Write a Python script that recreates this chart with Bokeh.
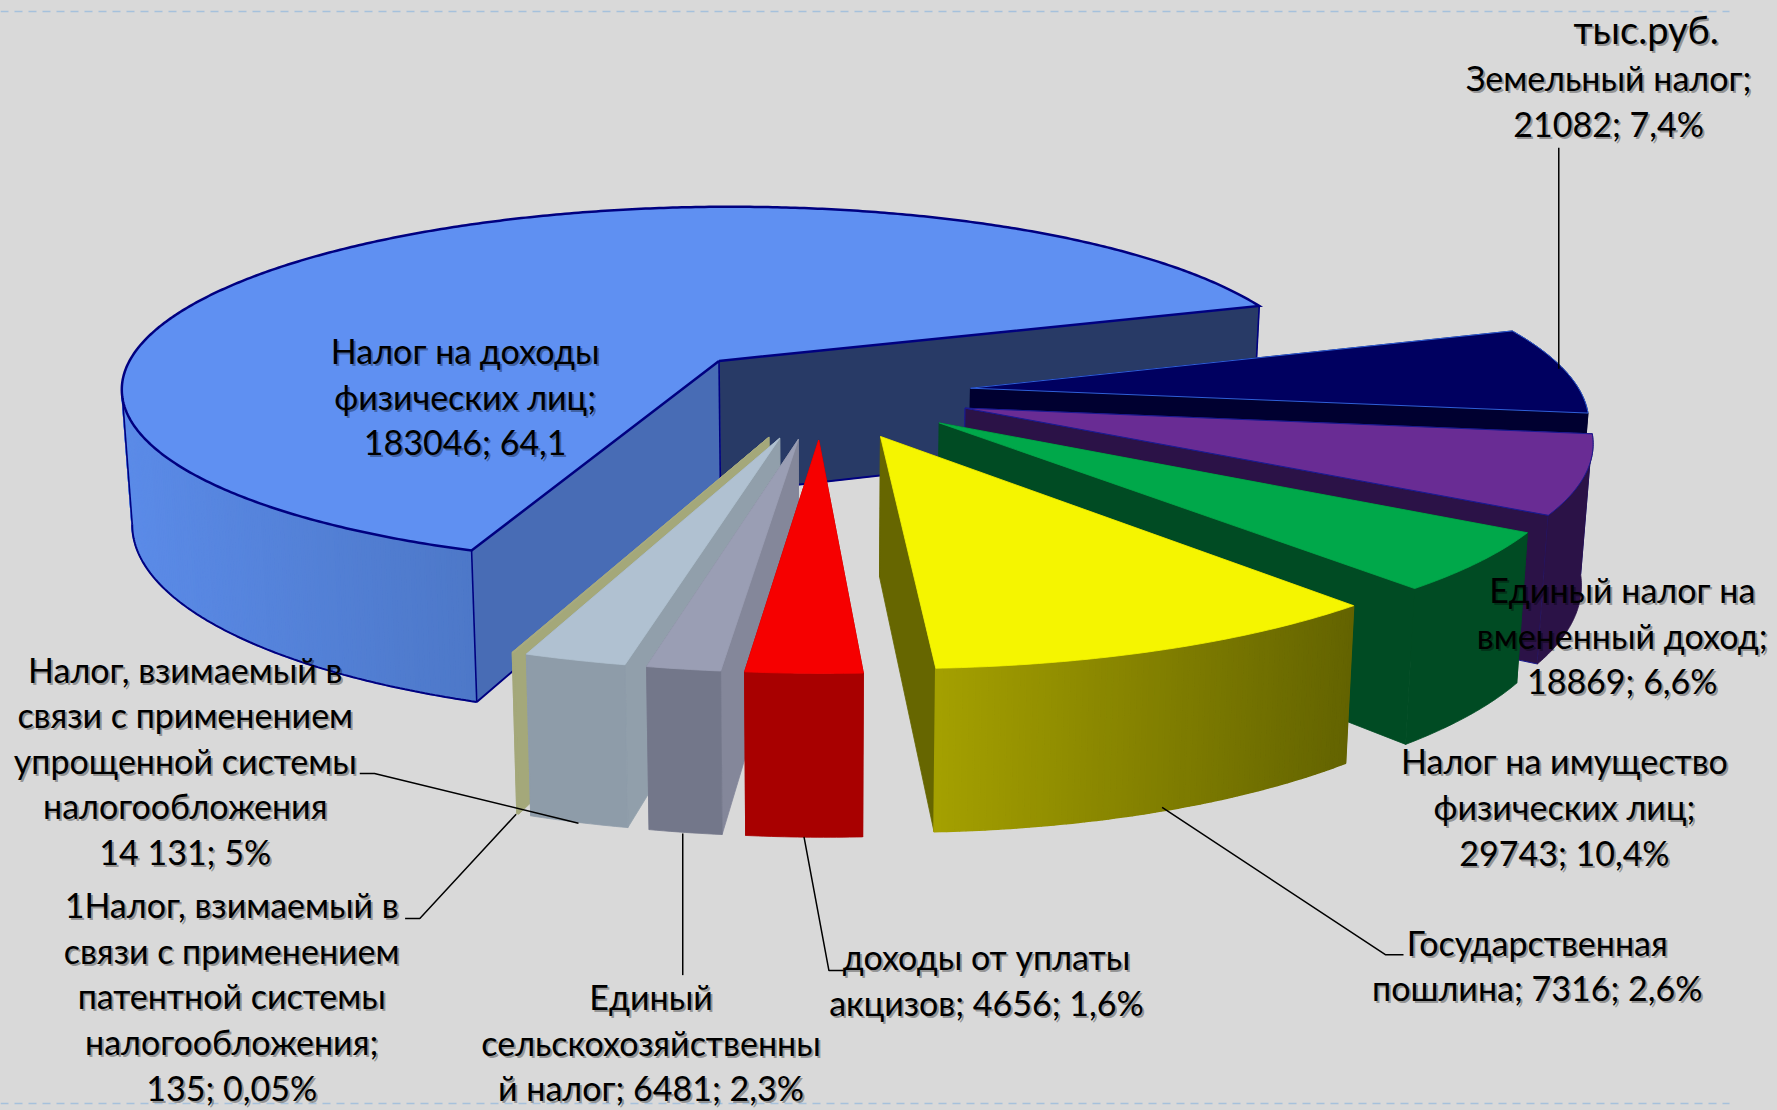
import math
from bokeh.plotting import figure
from bokeh.models import ColumnDataSource, Range1d
from bokeh.core.properties import value
from bokeh.embed import file_html
from bokeh.resources import INLINE

# ---------- data ----------
slice_names = ["Налог на доходы", "Земельный", "ЕНВД", "УСН", "Имущество",
               "Пошлина", "Акцизы", "ЕСХН", "Патент"]
slice_values = [183046, 21082, 18869, 14131, 29743, 7316, 4656, 6481, 135]

label_lines = [
    ["тыс.руб."],
    ["Земельный налог;", "21082; 7,4%"],
    ["Налог на доходы", "физических лиц;", "183046; 64,1"],
    ["Единый налог на", "вмененный доход;", "18869; 6,6%"],
    ["Налог на имущество", "физических лиц;", "29743; 10,4%"],
    ["Государственная", "пошлина; 7316; 2,6%"],
    ["доходы от уплаты", "акцизов; 4656; 1,6%"],
    ["Единый", "сельскохозяйственны", "й налог; 6481; 2,3%"],
    ["1Налог, взимаемый в", "связи с применением", "патентной системы", "налогообложения;", "135; 0,05%"],
    ["Налог, взимаемый в", "связи с применением", "упрощенной системы", "налогообложения", "14 131; 5%"],
]

# ---------- styles ----------
top_colors = ["#5F90F2", "#000060", "#692C94", "#00A84A", "#F5F500", "#F60000", "#9A9EB4", "#B0C1D1", "#A8AB80"]
wall_start = ["#486CB5", "#000030", "#2B1247", "#004B23", "#666600", "#A80000", "#84879A", "#919FAB", "#A4A87A"]
wall_end = ["#283A66", "#000030", "#2B1247", "#004B23", "#666600", "#A80000", "#84879A", "#919FAB", "#A4A87A"]
outer_from = ["#4D78C8", "#000030", "#2B1247", "#004B23", "#A5A000", "#A80000", "#73778A", "#8E9CA9", "#A4A87A"]
outer_to = ["#5B8BE8", "#000030", "#2B1247", "#004B23", "#636300", "#A80000", "#73778A", "#8E9CA9", "#A4A87A"]
edge_colors = ["#000080", "#2F5FD8", "#1A1A90", None, None, None, None, None, None]
edge_widths = [2.5, 1, 1, 0.6, 0.6, 0.6, 0.6, 0.6, 0.6]
paint_order = [0, 1, 2, 3, 4, 8, 7, 6, 5]

# ---------- layout: perspective of the pie, in page pixels ----------
W, H = 1777, 1110
S = W / 1568.0
PERSP_Y = 0.14
AX, BY = 522 * S, 155 * S
X0, Y0 = 634 * S, 318 * S
SHEAR_X, SHEAR_Y = 0.01, 0.007
DEPTH, DEPTH_POW = 117 * S, 0.95
TAPER_C, TAPER = 720 * S, 0.985
EXPLODE = 0.247
THETA0 = 111.5


def proj(X, Y):
    w = 1 - PERSP_Y * Y
    dx, dy = AX * X / w, BY * Y / w
    return X0 + dx + SHEAR_X * dy, Y0 + dy - SHEAR_Y * dx


def base(X, Y):
    w = 1 - PERSP_Y * Y
    sx, sy = proj(X, Y)
    return TAPER_C + (sx - TAPER_C) * TAPER, sy + DEPTH / w ** DEPTH_POW


def hex_mix(a, b, t):
    ca = [int(a[i:i + 2], 16) for i in (1, 3, 5)]
    cb = [int(b[i:i + 2], 16) for i in (1, 3, 5)]
    return "#%02x%02x%02x" % tuple(round(p + (q - p) * t) for p, q in zip(ca, cb))


total = sum(slice_values)
angles = []
t = THETA0
for v in slice_values:
    angles.append((t, t + v / total * 360))
    t += v / total * 360

blue_mid = math.radians(sum(angles[0]) / 2)
TX, TY = -EXPLODE * math.cos(blue_mid), -EXPLODE * math.sin(blue_mid)


def slice_geometry(i):
    t1, t2 = angles[i]
    mid = math.radians((t1 + t2) / 2)
    ax, ay = TX + EXPLODE * math.cos(mid), TY + EXPLODE * math.sin(mid)
    n = max(2, int(abs(t2 - t1)) * 2)
    arc = [(ax + math.cos(math.radians(t1 + (t2 - t1) * q / n)),
            ay + math.sin(math.radians(t1 + (t2 - t1) * q / n))) for q in range(n + 1)]
    return (ax, ay), arc, [proj(*a) for a in arc], [base(*a) for a in arc]


def new_polys():
    return dict(xs=[], ys=[], fill=[], line=[], lw=[])


def add_poly(d, pts_x, pts_y, color, line=None, lw=0.8):
    d["xs"].append(pts_x)
    d["ys"].append(pts_y)
    d["fill"].append(color)
    d["line"].append(line or color)
    d["lw"].append(lw)


def add_slice(d, i):
    (ax, ay), arc, top_pts, base_pts = slice_geometry(i)
    apex_t, apex_b = proj(ax, ay), base(ax, ay)
    n = len(arc) - 1
    last = n
    if i == 0:
        last = min(range(n + 1), key=lambda q: top_pts[q][0])
    faces = [(arc[0], wall_start[i]), (arc[-1], wall_end[i])]
    if i not in (1, 2, 3, 4):
        faces = faces[::-1]
    edge = edge_colors[i]
    for a, c in faces:
        a_t, a_b = proj(*a), base(*a)
        add_poly(d, [apex_t[0], a_t[0], a_b[0], apex_b[0]], [apex_t[1], a_t[1], a_b[1], apex_b[1]], c,
                 edge if i == 2 else None, 1 if i == 2 else 0.8)
    if outer_from[i] == outer_to[i]:
        # a flat rim is one single face
        add_poly(d, [q[0] for q in top_pts[:last + 1]] + [q[0] for q in base_pts[:last + 1]][::-1],
                 [q[1] for q in top_pts[:last + 1]] + [q[1] for q in base_pts[:last + 1]][::-1], outer_from[i])
    else:
        xs_all = [q[0] for q in top_pts[:last + 1]]
        lo, hi = min(xs_all), max(xs_all)
        for q in range(last):
            tm = (top_pts[q][0] + top_pts[q + 1][0]) / 2
            f = (tm - lo) / (hi - lo) if hi > lo else 0
            c = hex_mix(outer_to[i], outer_from[i], f) if i == 0 else hex_mix(outer_from[i], outer_to[i], f)
            add_poly(d, [top_pts[q][0], top_pts[q + 1][0], base_pts[q + 1][0], base_pts[q][0]],
                     [top_pts[q][1], top_pts[q + 1][1], base_pts[q + 1][1], base_pts[q][1]], c, None, 1.6)
    add_poly(d, [apex_t[0]] + [q[0] for q in top_pts], [apex_t[1]] + [q[1] for q in top_pts], top_colors[i],
             edge if i in (1, 2) else None, edge_widths[i] if i in (1, 2) else 0.8)


p = figure(width=W, height=H, x_range=Range1d(0, W), y_range=Range1d(H, 0),
           output_backend="svg", toolbar_location=None, min_border=0,
           background_fill_color="#D9D9D9", border_fill_color="#D9D9D9")
p.axis.visible = False
p.grid.visible = False
p.outline_line_color = None

# dashed guide lines of the slide
for gy in (11, 1103):
    p.line([0, 1729], [gy, gy], line_color="#A6C1DC", line_width=1.5, line_dash="8 6")

# big slice
back = new_polys()
add_slice(back, 0)
p.patches("xs", "ys", source=ColumnDataSource(back), fill_color="fill", line_color="line", line_width="lw")

(ax, ay), arc0, tp, bp = slice_geometry(0)
apx, apb = proj(ax, ay), base(ax, ay)
BC = edge_colors[0]
k_left = min(range(len(tp)), key=lambda q: tp[q][0])
p.line([apx[0]] + [a[0] for a in tp] + [apx[0]], [apx[1]] + [a[1] for a in tp] + [apx[1]],
       line_color=BC, line_width=edge_widths[0], line_join="miter")
p.line([a[0] for a in bp[:k_left + 1]], [a[1] for a in bp[:k_left + 1]], line_color=BC, line_width=2)
for cx_, cy_ in ((tp[0], bp[0]), (tp[-1], bp[-1]), (apx, apb), (tp[k_left], bp[k_left])):
    p.line([cx_[0], cy_[0]], [cx_[1], cy_[1]], line_color=BC, line_width=1.6)
p.line([bp[0][0], apb[0], bp[-1][0]], [bp[0][1], apb[1], bp[-1][1]], line_color=BC, line_width=2)

# the other slices, back to front
front = new_polys()
for i in paint_order[1:]:
    add_slice(front, i)
p.patches("xs", "ys", source=ColumnDataSource(front), fill_color="fill", line_color="line", line_width="lw")

# ---------- leader lines ----------
leaders = [
    ([1375, 1375], [130, 325]),
    ([1025, 1222, 1238], [712, 842, 842]),
    ([709, 731, 744], [738, 856, 856]),
    ([602, 602], [735, 860]),
    ([455, 370, 357], [718, 810, 810]),
    ([510, 330, 317], [726, 682, 682]),
]
for lx, ly in leaders:
    p.line([v * S for v in lx], [v * S for v in ly], line_color="#000000", line_width=1.5)

# ---------- labels ----------
label_centres = [(1452, 25), (1419, 68), (410, 309), (1431, 520), (1380, 671), (1356, 831),
                 (870, 844), (574, 879), (204, 798), (163, 590)]
LINE = 40.2
tx, ty, tt, ts = [], [], [], []
for lines_, (cx, cy) in zip(label_lines, label_centres):
    for n_, s in enumerate(lines_):
        tx.append(cx * S)
        ty.append((cy + n_ * LINE) * S)
        tt.append(s)
        ts.append("38px" if s == "тыс.руб." else "34px")
p.text(x=[v + 2 for v in tx], y=[v + 2 for v in ty], text=tt, text_font=value("Lato"), text_font_size=ts,
       text_align="center", text_baseline="middle", text_color="#000000", text_alpha=0.32)
p.text(x=tx, y=ty, text=tt, text_font=value("Lato"), text_font_size=ts,
       text_align="center", text_baseline="middle", text_color="#000000")

html = file_html(p, INLINE)
html = html.replace("<head>", "<head><style>html,body{margin:0;padding:0;background:#D9D9D9;overflow:hidden}</style>", 1)
open("out.html", "w", encoding="utf-8").write(html)
